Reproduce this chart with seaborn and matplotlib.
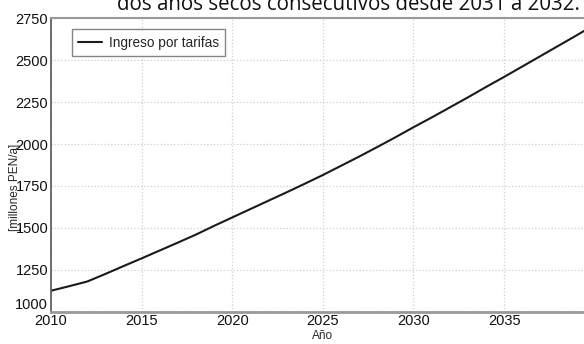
import pandas as pd
import matplotlib
matplotlib.use("Agg")
import matplotlib.pyplot as plt
import matplotlib.transforms as mtransforms
import seaborn as sns

# Datos
anios = [2010, 2011, 2012, 2013, 2014, 2015, 2016, 2017, 2018, 2019, 2020,
         2021, 2022, 2023, 2024, 2025, 2026, 2027, 2028, 2029, 2030,
         2031, 2032, 2033, 2034, 2035, 2036, 2037, 2038, 2039, 2040]
ingreso = [1125, 1152, 1180, 1225, 1272, 1318, 1365, 1412, 1460, 1512, 1562,
           1612, 1662, 1712, 1763, 1815, 1870, 1925, 1982, 2040, 2100,
           2158, 2218, 2278, 2340, 2400, 2462, 2524, 2586, 2648, 2712]
yticks = [1000, 1250, 1500, 1750, 2000, 2250, 2500, 2750]
xticks = [2010, 2015, 2020, 2025, 2030, 2035]

df = pd.DataFrame({'Año': anios, 'Ingreso por tarifas': ingreso})

sns.set_theme(style="whitegrid")
plt.rcParams['font.family'] = ['Liberation Sans', 'DejaVu Sans']

fig = plt.figure(figsize=(5.84, 3.44), dpi=100)
ax = fig.add_axes([0.0873, 0.0939, 0.931, 0.853])

sns.lineplot(data=df, x='Año', y='Ingreso por tarifas', color='#1a1a1a',
             linewidth=1.5, label='Ingreso por tarifas', ax=ax)

ax.set_xlim(2010, 2040)
ax.set_ylim(1000, 2750)
ax.set_xticks(xticks)
ax.set_yticks(yticks)
ax.tick_params(axis='both', length=0, labelsize=10.5, colors='#111111')
ax.tick_params(axis='y', pad=2)
ax.tick_params(axis='x', pad=2)

# la etiqueta 1000 está algo desplazada hacia arriba en el original
lbl_1000 = ax.get_yticklabels()[0]
lbl_1000.set_transform(lbl_1000.get_transform() +
                       mtransforms.ScaledTranslation(0, 8 / 100, fig.dpi_scale_trans))

ax.grid(True, linestyle=':', color='#cfcfcf', linewidth=0.9)
ax.set_facecolor('white')
ax.spines['left'].set_color('#555555')
ax.spines['left'].set_linewidth(1.2)
ax.spines['bottom'].set_color('#999999')
ax.spines['bottom'].set_linewidth(2)
ax.spines['top'].set_color('#999999')
ax.spines['top'].set_linewidth(1.5)

ax.set_xlabel('Año', fontsize=8.5, labelpad=1)
ax.set_ylabel('[millones PEN/a]', fontsize=8.5)
ax.yaxis.set_label_coords(-0.055, 0.425)

leg = ax.legend(loc='upper left', bbox_to_anchor=(0.038, 0.962), fontsize=9.8,
                frameon=True, fancybox=False, borderpad=0.45, handlelength=1.8,
                handletextpad=0.5, borderaxespad=0)
leg.get_frame().set_edgecolor('#666666')
leg.get_frame().set_linewidth(1.0)

fig.text(0.596, 0.971, 'dos años secos consecutivos desde 2031 a 2032.',
         ha='center', va='baseline', fontsize=14.8, family=['Open Sans', 'DejaVu Sans'],
         color='#111111')

fig.savefig('out.png', dpi=100)
